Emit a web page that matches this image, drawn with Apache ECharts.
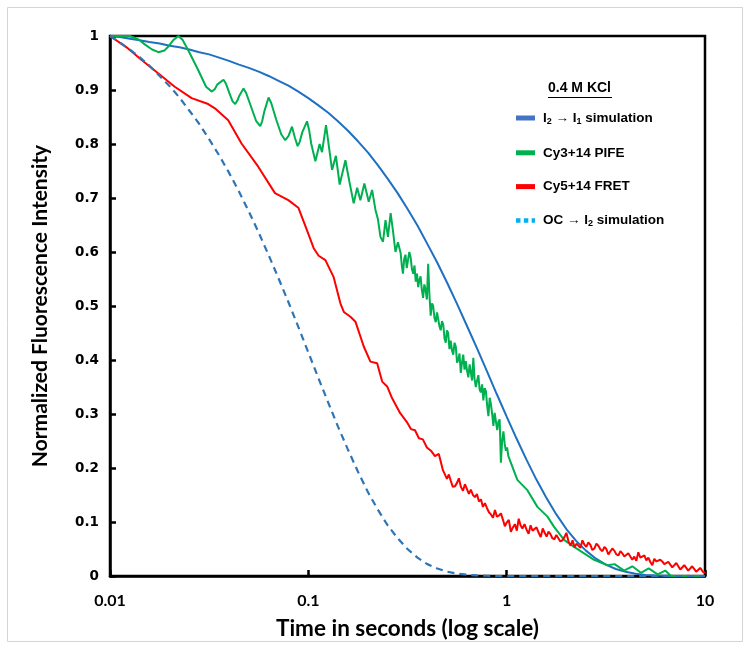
<!DOCTYPE html>
<html>
<head>
<meta charset="utf-8">
<script src="https://cdn.jsdelivr.net/npm/echarts@6/dist/echarts.min.js"></script>
<style>
html,body{margin:0;padding:0;background:#fff;}
#chart{width:750px;height:651px;}
</style>
</head>
<body>
<div id="chart"></div>
<script>
// ---- data (time in seconds, normalized intensity) ----
const seriesNames = ['I2 -> I1 simulation', 'Cy3+14 PIFE', 'Cy5+14 FRET', 'OC -> I2 simulation'];
const yTickLabels = ['0','0.1','0.2','0.3','0.4','0.5','0.6','0.7','0.8','0.9','1'];
const xTickLabels = ['0.01','0.1','1','10'];

const simT = [0.01,0.0112,0.0126,0.0141,0.0158,0.0178,0.02,0.0224,0.0251,0.0282,0.0316,0.0355,0.0398,0.0447,0.0501,0.0562,0.0631,0.0708,0.0794,0.0891,
 0.1,0.112,0.126,0.141,0.158,0.178,0.2,0.224,0.251,0.282,0.316,0.355,0.398,0.447,0.501,0.562,0.631,0.708,0.794,0.891,
 1.0,1.12,1.26,1.41,1.58,1.78,2.0,2.24,2.51,2.82,3.16,3.55,3.98,4.47,5.01,5.62,6.31,7.08,7.94,8.91,10];
const blueV = [1.000,0.998,0.995,0.992,0.989,0.986,0.982,0.979,0.975,0.970,0.966,0.960,0.954,0.947,0.941,0.934,0.926,0.917,0.908,0.897,
 0.885,0.872,0.858,0.842,0.825,0.805,0.784,0.761,0.736,0.709,0.680,0.649,0.615,0.580,0.543,0.504,0.463,0.422,0.380,0.337,
 0.295,0.255,0.215,0.179,0.146,0.114,0.087,0.065,0.047,0.032,0.021,0.013,0.008,0.004,0.002,0.001,0.0005,0,0,0,0];
const ocV = [1.000,0.988,0.975,0.961,0.945,0.926,0.907,0.886,0.862,0.837,0.809,0.779,0.747,0.712,0.675,0.636,0.594,0.551,0.507,0.461,
 0.414,0.368,0.321,0.277,0.235,0.193,0.155,0.123,0.094,0.070,0.050,0.034,0.022,0.014,0.008,0.0045,0.0023,0.001,0.0005,0,
 0,0,0,0,0,0,0,0,0,0,0,0,0,0,0,0,0,0,0,0,0];

const greenT = [0.01,0.01262,0.0140,0.01503,0.0163,0.01753,0.0188,0.01963,0.0208,0.02213,0.0232,0.02477,0.02783,0.0305,0.03263,0.0338,0.03471,0.03735,0.0385,0.0399,0.0415,0.0428,0.0438,0.04483,0.04712,0.0485,0.05154,0.0545,0.05722,0.0585,0.05995,0.06303,0.0650,0.06892,0.0730,0.07653,0.0795,0.08274,0.0855,0.08831,0.0905,0.09326,0.09849,0.1010,
 0.1035,0.1085,0.114,0.1172,0.1228,0.1317,0.1377,0.1439,0.1538,0.1611,0.1693,0.1762,0.183,0.1917,0.2016,0.2097,
 0.218,0.2245,0.231,0.238,0.245,0.252,0.26,0.267,0.275,0.283,
 0.292,0.296,0.30,0.3045,0.309,0.3135,0.318,0.323,0.328,0.333,0.338,0.343,0.348,0.353,0.358,0.363,0.368,0.3735,0.379,0.3845,0.39,0.396,0.402,0.408,0.414,0.42,0.426,0.4325,0.439,0.4455,0.452,0.4585,0.465,0.472,0.479,0.486,0.493,0.50,0.507,0.5145,0.522,0.53,0.538,0.546,0.554,0.562,0.570,0.5785,0.587,0.5955,0.604,0.613,0.622,0.6315,0.641,0.6505,0.66,0.6695,0.679,0.689,0.699,0.7095,0.72,0.7305,0.741,0.752,0.763,0.7745,0.786,0.7975,0.809,0.821,0.833,0.845,0.857,0.87,0.883,0.896,0.909,0.922,0.935,0.949,0.963,0.977,0.991,1.005,1.02,
 1.132,1.272,1.429,1.606,1.734,1.947,2.188,2.457,2.76,3.226,3.5,3.912,4.3,4.752,5.2,5.771,6.3,6.735,8.5,10];
const greenV = [1.0,1.0,0.993,0.984,0.975,0.970,0.973,0.980,0.992,1.0,0.993,0.974,0.937,0.906,0.897,0.902,0.910,0.919,0.911,0.895,0.879,0.874,0.880,0.889,0.903,0.895,0.868,0.843,0.833,0.842,0.860,0.886,0.876,0.845,0.818,0.807,0.815,0.832,0.812,0.796,0.804,0.822,0.842,0.825,
 0.800,0.768,0.800,0.785,0.835,0.752,0.778,0.725,0.770,0.730,0.690,0.719,0.696,0.727,0.693,0.715,
 0.678,0.660,0.628,0.619,0.659,0.628,0.672,0.640,0.600,0.618,
 0.598,0.575,0.560,0.588,0.595,0.570,0.585,0.600,0.590,0.568,0.560,0.575,0.545,0.560,0.535,0.548,0.555,0.530,0.515,0.540,0.530,0.512,0.578,0.520,0.482,0.505,0.500,0.478,0.470,0.488,0.490,0.462,0.455,0.472,0.465,0.440,0.432,0.455,0.450,0.420,0.436,0.418,0.410,0.432,0.425,0.395,0.400,0.412,0.376,0.395,0.410,0.382,0.398,0.380,0.368,0.392,0.390,0.362,0.404,0.365,0.350,0.362,0.372,0.345,0.340,0.355,0.325,0.348,0.342,0.315,0.296,0.330,0.318,0.300,0.278,0.302,0.300,0.270,0.286,0.290,0.210,0.250,0.268,0.245,0.232,0.238,0.222,
 0.178,0.159,0.128,0.110,0.091,0.067,0.054,0.042,0.030,0.020,0.022,0.010,0.018,0.006,0.014,0.003,0.010,0.0,0.0,0.0];

const redT = [0.01,0.01233,0.01439,0.01748,0.0212,0.0258,0.03126,0.0338,0.03945,0.04604,0.0559,0.06789,0.07925,0.08903,0.0985,0.1064,0.1127,0.1219,0.134,0.1451,0.151,0.163,0.1728,0.1903,0.2056,0.2223,0.2357,0.2497,0.2646,
 0.29,0.314,0.329,0.345,0.361,0.378,0.396,0.415,0.435,0.455,0.477,0.5,
 0.511,0.523,0.535,0.548,0.561,0.574,0.588,0.602,0.616,0.63,0.645,0.66,0.676,0.692,0.708,0.725,0.742,0.759,0.777,0.795,0.814,0.833,0.853,0.873,0.893,0.914,0.936,0.958,0.979,1.0,
 1.025,1.05,1.075,1.1,1.125,1.15,1.175,1.2,1.23,1.26,1.29,1.32,1.35,1.38,1.415,1.45,1.485,1.52,1.555,1.59,1.625,1.66,1.70,1.74,1.78,1.82,1.865,1.91,1.955,2.0,
 2.05,2.1,2.15,2.2,2.25,2.3,2.355,2.41,2.465,2.52,2.58,2.64,2.705,2.77,2.835,2.9,2.97,3.04,3.11,3.18,3.255,3.33,3.41,3.49,3.575,3.66,3.745,3.83,3.92,4.01,
 4.105,4.2,4.3,4.4,4.505,4.61,4.72,4.83,4.945,5.06,5.18,5.3,5.425,5.55,5.68,5.81,5.95,6.09,6.235,6.38,6.53,6.68,6.84,7.0,7.165,7.33,7.505,7.68,7.86,8.04,8.23,8.42,8.62,8.82,9.03,9.24,9.46,9.68,9.84,10.0];
const redV = [1.0,0.977,0.956,0.931,0.906,0.885,0.874,0.866,0.844,0.801,0.758,0.709,0.696,0.682,0.640,0.607,0.593,0.585,0.554,0.505,0.489,0.480,0.471,0.425,0.397,0.394,0.360,0.351,0.329,
 0.302,0.285,0.272,0.270,0.255,0.253,0.238,0.232,0.222,0.226,0.196,0.180,
 0.188,0.176,0.165,0.166,0.172,0.181,0.165,0.158,0.170,0.168,0.152,0.160,0.150,0.146,0.152,0.138,0.142,0.128,0.135,0.126,0.118,0.114,0.108,0.122,0.110,0.112,0.116,0.104,0.092,0.099,
 0.104,0.082,0.090,0.096,0.084,0.106,0.094,0.088,0.096,0.086,0.078,0.094,0.084,0.082,0.090,0.080,0.072,0.088,0.080,0.073,0.082,0.078,0.070,0.068,0.076,0.074,0.064,0.066,0.072,0.080,
 0.064,0.056,0.066,0.053,0.060,0.062,0.052,0.066,0.058,0.054,0.062,0.058,0.048,0.051,0.060,0.056,0.049,0.046,0.054,0.050,0.040,0.043,0.051,0.047,0.040,0.038,0.046,0.042,0.036,0.034,
 0.042,0.040,0.030,0.036,0.028,0.044,0.034,0.031,0.038,0.029,0.034,0.026,0.020,0.032,0.027,0.024,0.030,0.027,0.022,0.019,0.026,0.024,0.016,0.018,0.024,0.021,0.012,0.014,0.020,0.019,0.010,0.012,0.018,0.016,0.008,0.009,0.015,0.013,0.006,0.008];

function pairs(t, v){
  if (t.length !== v.length) throw new Error('length mismatch ' + t.length + ' vs ' + v.length);
  return t.map((x,i)=>[x, v[i]]);
}

const legendLabels = {
  'I2 -> I1 simulation': '{b|I}{s|2}{b| \u2192 I}{s|1}{b| simulation}',
  'Cy3+14 PIFE': '{b|Cy3+14 PIFE}',
  'Cy5+14 FRET': '{b|Cy5+14 FRET}',
  'OC -> I2 simulation': '{b|OC \u2192 I}{s|2}{b| simulation}'
};

const chart = echarts.init(document.getElementById('chart'), null, {renderer:'canvas'});

chart.setOption({
  animation:false,
  backgroundColor:'#fff',
  grid:{left:110, right:45, top:36, bottom:75, show:true, borderColor:'#000', borderWidth:2.5, backgroundColor:'transparent'},
  graphic:[
    {type:'rect', silent:true, shape:{x:7.5,y:7.5,width:735,height:634}, style:{fill:'none', stroke:'#d4d4d4', lineWidth:1}},
    {type:'text', left:548, top:81, style:{text:'0.4 M KCl', font:'bold 14px "Liberation Sans", Arial', fill:'#000'}},
    {type:'line', silent:true, shape:{x1:548,y1:97.5,x2:612,y2:97.5}, style:{stroke:'#000', lineWidth:1.2}}
  ],
  legend:{
    orient:'vertical', left:511, top:106, itemWidth:19, itemHeight:5, itemGap:19.8,
    textStyle:{padding:[0,0,0,3], rich:{
      b:{fontFamily:'"Liberation Sans", Arial', fontWeight:'bold', fontSize:13.5, color:'#000', lineHeight:16},
      s:{fontFamily:'"Liberation Sans", Arial', fontWeight:'bold', fontSize:9, color:'#000', lineHeight:16, verticalAlign:'bottom', padding:[5,0,0,0]}
    }},
    formatter: n => legendLabels[n],
    data:[
      {name:seriesNames[0], icon:'rect', itemStyle:{color:'#4472C4', borderWidth:0}},
      {name:seriesNames[1], icon:'rect', itemStyle:{color:'#00B050', borderWidth:0}},
      {name:seriesNames[2], icon:'rect', itemStyle:{color:'#FF0000', borderWidth:0}},
      {name:seriesNames[3], icon:'path://M0,0h4v4h-4z M7,0h4v4h-4z M14,0h3v4h-3z', itemStyle:{color:'#00B0F0', borderWidth:0}}
    ]
  },
  xAxis:{
    type:'log', logBase:10, min:0.01, max:10,
    name:'Time in seconds (log scale)', nameLocation:'middle', nameGap:41,
    nameTextStyle:{fontFamily:'Lato', fontWeight:'bold', fontSize:22.5, color:'#000'},
    axisLine:{lineStyle:{color:'#000', width:2.5}},
    axisTick:{inside:true, length:6, lineStyle:{color:'#000', width:2.5}},
    axisLabel:{margin:17, fontFamily:'Lato', fontWeight:'bold', fontSize:16, color:'#000',
      formatter: v => { const i = Math.round(Math.log10(v)) + 2; return xTickLabels[i] !== undefined ? xTickLabels[i] : ''; }},
    splitLine:{show:false}, minorTick:{show:false}
  },
  yAxis:{
    type:'value', min:0, max:1, interval:0.1,
    name:'Normalized Fluorescence Intensity', nameLocation:'middle', nameRotate:90, nameGap:59,
    nameTextStyle:{fontFamily:'Lato', fontWeight:'bold', fontSize:21, color:'#000'},
    axisLine:{show:true, lineStyle:{color:'#000', width:2.5}},
    axisTick:{show:true, inside:true, length:6, lineStyle:{color:'#000', width:2.5}},
    axisLabel:{margin:11, fontFamily:'"DejaVu Sans"', fontWeight:'bold', fontSize:13.5, color:'#000',
      formatter: v => yTickLabels[Math.round(v*10)]},
    splitLine:{show:false}
  },
  series:[
    {name:seriesNames[0], type:'line', data:pairs(simT, blueV), showSymbol:false, smooth:false,
     lineStyle:{color:'#1F70C1', width:2}, itemStyle:{color:'#1F70C1'}, z:3},
    {name:seriesNames[1], type:'line', data:pairs(greenT, greenV), showSymbol:false, smooth:false,
     lineStyle:{color:'#00B050', width:2}, itemStyle:{color:'#00B050'}, z:4},
    {name:seriesNames[2], type:'line', data:pairs(redT, redV), showSymbol:false, smooth:false,
     lineStyle:{color:'#FF0000', width:2}, itemStyle:{color:'#FF0000'}, z:5},
    {name:seriesNames[3], type:'line', data:pairs(simT, ocV), showSymbol:false, smooth:false,
     lineStyle:{color:'#2E75B6', width:2.2, type:[7,5]}, itemStyle:{color:'#2E75B6'}, z:6}
  ]
});
</script>
</body>
</html>
